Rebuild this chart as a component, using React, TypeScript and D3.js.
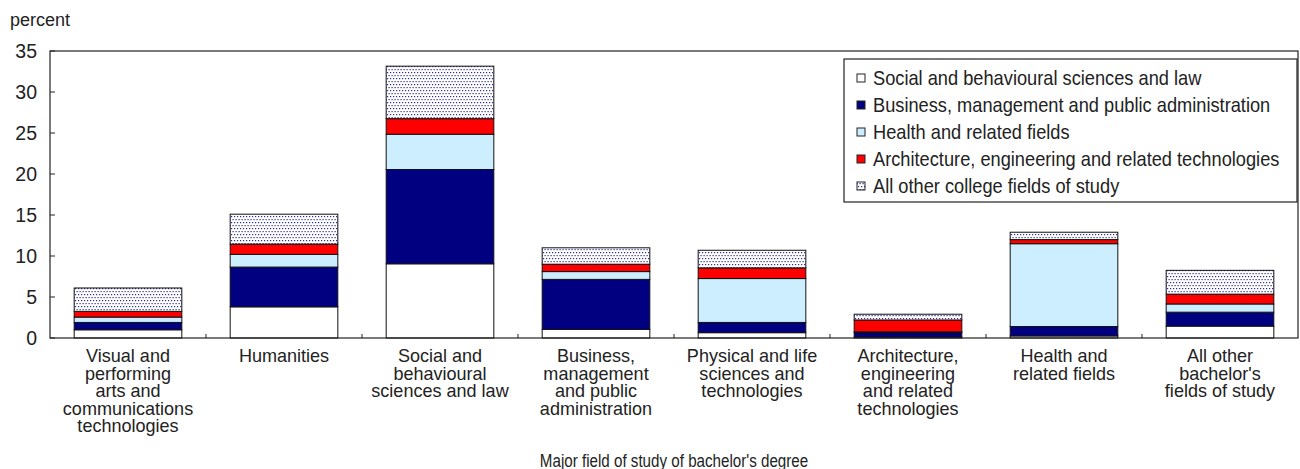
import React from "react";
import * as d3 from "d3";

const categories = [
  "Visual and performing arts and communications technologies",
  "Humanities",
  "Social and behavioural sciences and law",
  "Business, management and public administration",
  "Physical and life sciences and technologies",
  "Architecture, engineering and related technologies",
  "Health and related fields",
  "All other bachelor's fields of study",
];
const categoryLines = [
  ["Visual and", "performing", "arts and", "communications", "technologies"],
  ["Humanities"],
  ["Social and", "behavioural", "sciences and law"],
  ["Business,", "management", "and public", "administration"],
  ["Physical and life", "sciences and", "technologies"],
  ["Architecture,", "engineering", "and related", "technologies"],
  ["Health and", "related fields"],
  ["All other", "bachelor's", "fields of study"],
];
const seriesNames = [
  "Social and behavioural sciences and law",
  "Business, management and public administration",
  "Health and related fields",
  "Architecture, engineering and related technologies",
  "All other college fields of study",
];
const socialValues = [1.0, 3.8, 9.05, 1.05, 0.65, 0.1, 0.25, 1.45];
const businessValues = [0.9, 4.85, 11.5, 6.1, 1.25, 0.55, 1.15, 1.7];
const healthValues = [0.65, 1.55, 4.3, 0.95, 5.35, 0.1, 10.1, 1.0];
const archValues = [0.7, 1.25, 1.9, 0.9, 1.3, 1.45, 0.5, 1.2];
const otherValues = [2.85, 3.65, 6.4, 2.0, 2.15, 0.7, 0.9, 2.9];
const yTicks = [0, 5, 10, 15, 20, 25, 30, 35];

const FONT = "'Liberation Sans', Arial, sans-serif";
const fills = ["#ffffff", "#000080", "#cceeff", "#ff0000", "url(#dots)"];

function NText(props: { x: number; y: number; sx: number; size: number; anchor?: string; lines: string[]; lh?: number }) {
  const { x, y, sx, size, anchor, lines, lh } = props;
  return (
    <text transform={`translate(${x},${y}) scale(${sx},1)`} fontSize={size} fill="#222"
      textAnchor={anchor || "start"} dominantBaseline="central">
      {lines.map((l, k) => (
        <tspan key={k} x={0} dy={k === 0 ? 0 : lh || 0}>{l}</tspan>
      ))}
    </text>
  );
}

export default function App() {
  const W = 1300, H = 469;
  const left = 50, right = 1298, top = 51, bottom = 338;
  const x = d3.scaleBand<string>().domain(categories).range([left, right]).paddingInner(0.31).paddingOuter(0.155);
  const y = d3.scaleLinear().domain([0, 35]).range([bottom, top]);
  const rows = categories.map((c, i) => ({
    cat: c,
    s0: socialValues[i], s1: businessValues[i], s2: healthValues[i], s3: archValues[i], s4: otherValues[i],
  }));
  const stack = d3.stack<any>().keys(["s0", "s1", "s2", "s3", "s4"]);
  const layers = stack(rows);
  const step = x.step();

  return (
    <svg width={W} height={H} style={{ position: "absolute", left: 0, top: 0, background: "#fff" }} fontFamily={FONT}>
      <defs>
        <pattern id="dots" patternUnits="userSpaceOnUse" width={6} height={6}>
          <rect width={6} height={6} fill="#ffffff" />
          <rect x={0} y={0} width={1.2} height={1.2} fill="#2a2a9a" />
          <rect x={3} y={0} width={1.2} height={1.2} fill="#2a2a9a" />
          <rect x={1.5} y={3} width={1.2} height={1.2} fill="#2a2a9a" />
          <rect x={4.5} y={3} width={1.2} height={1.2} fill="#2a2a9a" />
        </pattern>
      </defs>
      <NText x={10} y={20} sx={1} size={18} lines={["percent"]} />
      {yTicks.map((t) => (
        <g key={t}>
          <text x={37} y={y(t)} fontSize={19.5} fill="#222" textAnchor="end" dominantBaseline="central">{t}</text>
          <line x1={left} x2={left + 5} y1={y(t)} y2={y(t)} stroke="#222" />
        </g>
      ))}
      {d3.range(1, categories.length).map((i) => (
        <line key={i} x1={left + i * step} x2={left + i * step} y1={bottom} y2={bottom - 4} stroke="#222" />
      ))}
      {layers.map((layer, li) => (
        <g key={li}>
          {layer.map((d, i) => (
            <rect key={i} x={x(categories[i])} width={x.bandwidth()} y={y(d[1])} height={y(d[0]) - y(d[1])}
              fill={fills[li]} stroke="#111" strokeWidth={1} />
          ))}
        </g>
      ))}
      <rect x={left} y={top} width={right - left} height={bottom - top} fill="none" stroke="#222" strokeWidth={1.2} />
      {categoryLines.map((lines, i) => (
        <NText key={i} x={(x(categories[i]) as number) + x.bandwidth() / 2} y={355} sx={0.95} size={19}
          anchor="middle" lines={lines} lh={17.5} />
      ))}
      <NText x={(left + right) / 2} y={460} sx={0.82} size={18.5} anchor="middle" lines={["Major field of study of bachelor's degree"]} />
      <rect x={844} y={59} width={453} height={143} fill="#fff" stroke="#222" strokeWidth={1.2} />
      {seriesNames.map((n, i) => (
        <g key={i}>
          <rect x={857} y={78 + i * 27 - 4} width={8} height={8} fill={fills[i]} stroke="#222" strokeWidth={1} />
          <NText x={873} y={78 + i * 27} sx={0.89} size={20.5} lines={[n]} />
        </g>
      ))}
    </svg>
  );
}
